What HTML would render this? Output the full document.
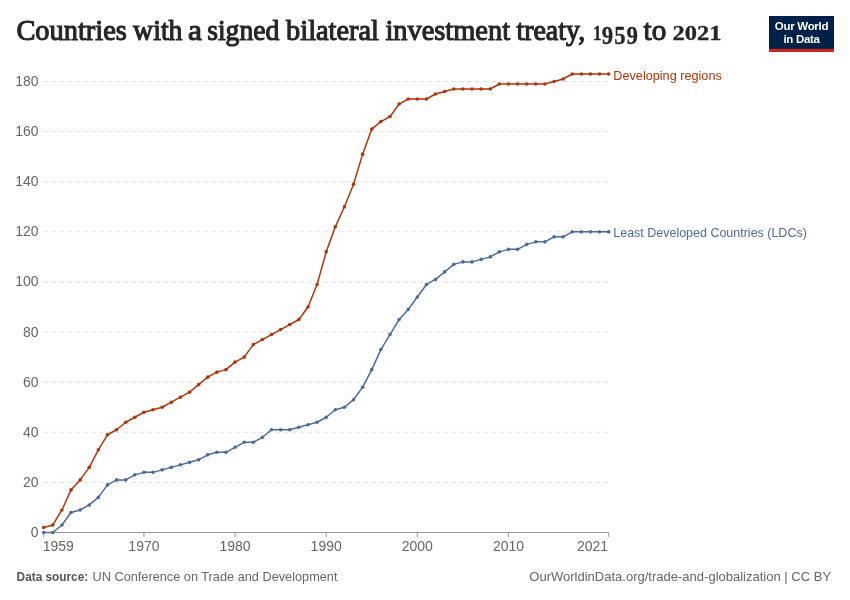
<!DOCTYPE html>
<html><head><meta charset="utf-8"><style>
html,body{margin:0;padding:0;background:#fff;}
body{width:850px;height:600px;overflow:hidden;position:relative;}
svg{position:absolute;left:0;top:0;}
.t{font-family:"Liberation Serif",serif;font-weight:normal;fill:#262626;stroke:#262626;stroke-width:1.1px;}
.d{font-weight:bold;stroke-width:0.3px;}
.ax{font-family:"Liberation Sans",sans-serif;font-size:14px;fill:#666;}
.lg{font-family:"Liberation Sans",sans-serif;font-size:13px;}
.ft{font-family:"Liberation Sans",sans-serif;font-size:13px;fill:#666;}
</style></head><body>
<svg width="850" height="600" viewBox="0 0 850 600">
<rect width="850" height="600" fill="#fff"/>
<text class="t" x="16.4" y="40" font-size="28.6" textLength="110.5" lengthAdjust="spacingAndGlyphs">Countries</text>
<text class="t" x="133.1" y="40" font-size="28.6" textLength="49.4" lengthAdjust="spacingAndGlyphs">with</text>
<text class="t" x="188.0" y="40" font-size="28.6" textLength="13.9" lengthAdjust="spacingAndGlyphs">a</text>
<text class="t" x="207.2" y="40" font-size="28.6" textLength="72.1" lengthAdjust="spacingAndGlyphs">signed</text>
<text class="t" x="286.1" y="40" font-size="28.6" textLength="92.9" lengthAdjust="spacingAndGlyphs">bilateral</text>
<text class="t" x="385.4" y="40" font-size="28.6" textLength="124.7" lengthAdjust="spacingAndGlyphs">investment</text>
<text class="t" x="516.4" y="40" font-size="28.6" textLength="68.8" lengthAdjust="spacingAndGlyphs">treaty,</text>
<text class="t" x="643.6" y="40" font-size="28.6" textLength="22.7" lengthAdjust="spacingAndGlyphs">to</text>
<text class="t d" x="593.0" y="40" font-size="20" textLength="8.6" lengthAdjust="spacingAndGlyphs">1</text>
<text class="t d" x="601.8" y="43.6" font-size="25.5" textLength="11.4" lengthAdjust="spacingAndGlyphs">9</text>
<text class="t d" x="614.2" y="43.6" font-size="25.5" textLength="11.4" lengthAdjust="spacingAndGlyphs">5</text>
<text class="t d" x="626.6" y="43.6" font-size="25.5" textLength="11.4" lengthAdjust="spacingAndGlyphs">9</text>
<text class="t d" x="672.5" y="40" font-size="20" textLength="49" lengthAdjust="spacingAndGlyphs">2021</text>

<g>
<rect x="769" y="16" width="65" height="36" fill="#002147"/>
<rect x="769" y="48.8" width="65" height="3.2" fill="#c9261f"/>
<text x="801.5" y="30" text-anchor="middle" font-family="Liberation Sans, sans-serif" font-weight="bold" font-size="11.5" fill="#fff" letter-spacing="-0.3">Our World</text>
<text x="801.5" y="43" text-anchor="middle" font-family="Liberation Sans, sans-serif" font-weight="bold" font-size="11.5" fill="#fff" letter-spacing="-0.3">in Data</text>
</g>
<line x1="43.5" x2="608.7" y1="482.39" y2="482.39" stroke="#ddd" stroke-width="1" stroke-dasharray="4,4"/>
<line x1="43.5" x2="608.7" y1="432.28" y2="432.28" stroke="#ddd" stroke-width="1" stroke-dasharray="4,4"/>
<line x1="43.5" x2="608.7" y1="382.16" y2="382.16" stroke="#ddd" stroke-width="1" stroke-dasharray="4,4"/>
<line x1="43.5" x2="608.7" y1="332.05" y2="332.05" stroke="#ddd" stroke-width="1" stroke-dasharray="4,4"/>
<line x1="43.5" x2="608.7" y1="281.94" y2="281.94" stroke="#ddd" stroke-width="1" stroke-dasharray="4,4"/>
<line x1="43.5" x2="608.7" y1="231.83" y2="231.83" stroke="#ddd" stroke-width="1" stroke-dasharray="4,4"/>
<line x1="43.5" x2="608.7" y1="181.72" y2="181.72" stroke="#ddd" stroke-width="1" stroke-dasharray="4,4"/>
<line x1="43.5" x2="608.7" y1="131.60" y2="131.60" stroke="#ddd" stroke-width="1" stroke-dasharray="4,4"/>
<line x1="43.5" x2="608.7" y1="81.49" y2="81.49" stroke="#ddd" stroke-width="1" stroke-dasharray="4,4"/>

<line x1="43.5" x2="608.7" y1="532.5" y2="532.5" stroke="#999" stroke-width="1"/>
<line x1="43.70" x2="43.70" y1="532.5" y2="537" stroke="#999" stroke-width="1"/><line x1="143.94" x2="143.94" y1="532.5" y2="537" stroke="#999" stroke-width="1"/><line x1="235.07" x2="235.07" y1="532.5" y2="537" stroke="#999" stroke-width="1"/><line x1="326.20" x2="326.20" y1="532.5" y2="537" stroke="#999" stroke-width="1"/><line x1="417.33" x2="417.33" y1="532.5" y2="537" stroke="#999" stroke-width="1"/><line x1="508.46" x2="508.46" y1="532.5" y2="537" stroke="#999" stroke-width="1"/><line x1="608.71" x2="608.71" y1="532.5" y2="537" stroke="#999" stroke-width="1"/>
<g class="ax">
<text x="38.5" y="536.95" text-anchor="end">0</text>
<text x="38.5" y="486.84" text-anchor="end">20</text>
<text x="38.5" y="436.73" text-anchor="end">40</text>
<text x="38.5" y="386.61" text-anchor="end">60</text>
<text x="38.5" y="336.50" text-anchor="end">80</text>
<text x="38.5" y="286.39" text-anchor="end">100</text>
<text x="38.5" y="236.28" text-anchor="end">120</text>
<text x="38.5" y="186.17" text-anchor="end">140</text>
<text x="38.5" y="136.05" text-anchor="end">160</text>
<text x="38.5" y="85.94" text-anchor="end">180</text>

<text x="42.70" y="550.7" text-anchor="start">1959</text>
<text x="143.94" y="550.7" text-anchor="middle">1970</text>
<text x="235.07" y="550.7" text-anchor="middle">1980</text>
<text x="326.20" y="550.7" text-anchor="middle">1990</text>
<text x="417.33" y="550.7" text-anchor="middle">2000</text>
<text x="508.46" y="550.7" text-anchor="middle">2010</text>
<text x="608.11" y="550.7" text-anchor="end">2021</text>

</g>
<polyline points="43.70,532.50 52.81,532.50 61.93,524.98 71.04,512.46 80.15,509.95 89.27,504.94 98.38,497.42 107.49,484.89 116.60,479.88 125.72,479.88 134.83,474.87 143.94,472.37 153.06,472.37 162.17,469.86 171.28,467.35 180.39,464.85 189.51,462.34 198.62,459.84 207.73,454.83 216.85,452.32 225.96,452.32 235.07,447.31 244.19,442.30 253.30,442.30 262.41,437.29 271.52,429.77 280.64,429.77 289.75,429.77 298.86,427.26 307.98,424.76 317.09,422.25 326.20,417.24 335.32,409.73 344.43,407.22 353.54,399.70 362.65,387.18 371.77,369.64 380.88,349.59 389.99,334.56 399.11,319.52 408.22,309.50 417.33,296.97 426.45,284.45 435.56,279.43 444.67,271.92 453.78,264.40 462.90,261.90 472.01,261.90 481.12,259.39 490.24,256.88 499.35,251.87 508.46,249.37 517.58,249.37 526.69,244.36 535.80,241.85 544.91,241.85 554.03,236.84 563.14,236.84 572.25,231.83 581.37,231.83 590.48,231.83 599.59,231.83 608.71,231.83" fill="none" stroke="#4C6A9C" stroke-width="1.5" stroke-linejoin="round" stroke-linecap="round"/>
<circle cx="43.70" cy="532.50" r="1.8" fill="#4C6A9C"/><circle cx="52.81" cy="532.50" r="1.8" fill="#4C6A9C"/><circle cx="61.93" cy="524.98" r="1.8" fill="#4C6A9C"/><circle cx="71.04" cy="512.46" r="1.8" fill="#4C6A9C"/><circle cx="80.15" cy="509.95" r="1.8" fill="#4C6A9C"/><circle cx="89.27" cy="504.94" r="1.8" fill="#4C6A9C"/><circle cx="98.38" cy="497.42" r="1.8" fill="#4C6A9C"/><circle cx="107.49" cy="484.89" r="1.8" fill="#4C6A9C"/><circle cx="116.60" cy="479.88" r="1.8" fill="#4C6A9C"/><circle cx="125.72" cy="479.88" r="1.8" fill="#4C6A9C"/><circle cx="134.83" cy="474.87" r="1.8" fill="#4C6A9C"/><circle cx="143.94" cy="472.37" r="1.8" fill="#4C6A9C"/><circle cx="153.06" cy="472.37" r="1.8" fill="#4C6A9C"/><circle cx="162.17" cy="469.86" r="1.8" fill="#4C6A9C"/><circle cx="171.28" cy="467.35" r="1.8" fill="#4C6A9C"/><circle cx="180.39" cy="464.85" r="1.8" fill="#4C6A9C"/><circle cx="189.51" cy="462.34" r="1.8" fill="#4C6A9C"/><circle cx="198.62" cy="459.84" r="1.8" fill="#4C6A9C"/><circle cx="207.73" cy="454.83" r="1.8" fill="#4C6A9C"/><circle cx="216.85" cy="452.32" r="1.8" fill="#4C6A9C"/><circle cx="225.96" cy="452.32" r="1.8" fill="#4C6A9C"/><circle cx="235.07" cy="447.31" r="1.8" fill="#4C6A9C"/><circle cx="244.19" cy="442.30" r="1.8" fill="#4C6A9C"/><circle cx="253.30" cy="442.30" r="1.8" fill="#4C6A9C"/><circle cx="262.41" cy="437.29" r="1.8" fill="#4C6A9C"/><circle cx="271.52" cy="429.77" r="1.8" fill="#4C6A9C"/><circle cx="280.64" cy="429.77" r="1.8" fill="#4C6A9C"/><circle cx="289.75" cy="429.77" r="1.8" fill="#4C6A9C"/><circle cx="298.86" cy="427.26" r="1.8" fill="#4C6A9C"/><circle cx="307.98" cy="424.76" r="1.8" fill="#4C6A9C"/><circle cx="317.09" cy="422.25" r="1.8" fill="#4C6A9C"/><circle cx="326.20" cy="417.24" r="1.8" fill="#4C6A9C"/><circle cx="335.32" cy="409.73" r="1.8" fill="#4C6A9C"/><circle cx="344.43" cy="407.22" r="1.8" fill="#4C6A9C"/><circle cx="353.54" cy="399.70" r="1.8" fill="#4C6A9C"/><circle cx="362.65" cy="387.18" r="1.8" fill="#4C6A9C"/><circle cx="371.77" cy="369.64" r="1.8" fill="#4C6A9C"/><circle cx="380.88" cy="349.59" r="1.8" fill="#4C6A9C"/><circle cx="389.99" cy="334.56" r="1.8" fill="#4C6A9C"/><circle cx="399.11" cy="319.52" r="1.8" fill="#4C6A9C"/><circle cx="408.22" cy="309.50" r="1.8" fill="#4C6A9C"/><circle cx="417.33" cy="296.97" r="1.8" fill="#4C6A9C"/><circle cx="426.45" cy="284.45" r="1.8" fill="#4C6A9C"/><circle cx="435.56" cy="279.43" r="1.8" fill="#4C6A9C"/><circle cx="444.67" cy="271.92" r="1.8" fill="#4C6A9C"/><circle cx="453.78" cy="264.40" r="1.8" fill="#4C6A9C"/><circle cx="462.90" cy="261.90" r="1.8" fill="#4C6A9C"/><circle cx="472.01" cy="261.90" r="1.8" fill="#4C6A9C"/><circle cx="481.12" cy="259.39" r="1.8" fill="#4C6A9C"/><circle cx="490.24" cy="256.88" r="1.8" fill="#4C6A9C"/><circle cx="499.35" cy="251.87" r="1.8" fill="#4C6A9C"/><circle cx="508.46" cy="249.37" r="1.8" fill="#4C6A9C"/><circle cx="517.58" cy="249.37" r="1.8" fill="#4C6A9C"/><circle cx="526.69" cy="244.36" r="1.8" fill="#4C6A9C"/><circle cx="535.80" cy="241.85" r="1.8" fill="#4C6A9C"/><circle cx="544.91" cy="241.85" r="1.8" fill="#4C6A9C"/><circle cx="554.03" cy="236.84" r="1.8" fill="#4C6A9C"/><circle cx="563.14" cy="236.84" r="1.8" fill="#4C6A9C"/><circle cx="572.25" cy="231.83" r="1.8" fill="#4C6A9C"/><circle cx="581.37" cy="231.83" r="1.8" fill="#4C6A9C"/><circle cx="590.48" cy="231.83" r="1.8" fill="#4C6A9C"/><circle cx="599.59" cy="231.83" r="1.8" fill="#4C6A9C"/><circle cx="608.71" cy="231.83" r="1.8" fill="#4C6A9C"/>

<polyline points="43.70,527.49 52.81,524.98 61.93,509.95 71.04,489.90 80.15,479.88 89.27,467.35 98.38,449.82 107.49,434.78 116.60,429.77 125.72,422.25 134.83,417.24 143.94,412.23 153.06,409.73 162.17,407.22 171.28,402.21 180.39,397.20 189.51,392.19 198.62,384.67 207.73,377.15 216.85,372.14 225.96,369.64 235.07,362.12 244.19,357.11 253.30,344.58 262.41,339.57 271.52,334.56 280.64,329.55 289.75,324.54 298.86,319.52 307.98,307.00 317.09,284.45 326.20,251.87 335.32,226.82 344.43,206.77 353.54,184.22 362.65,154.15 371.77,129.10 380.88,121.58 389.99,116.57 399.11,104.04 408.22,99.03 417.33,99.03 426.45,99.03 435.56,94.02 444.67,91.51 453.78,89.01 462.90,89.01 472.01,89.01 481.12,89.01 490.24,89.01 499.35,84.00 508.46,84.00 517.58,84.00 526.69,84.00 535.80,84.00 544.91,84.00 554.03,81.49 563.14,78.99 572.25,73.98 581.37,73.98 590.48,73.98 599.59,73.98 608.71,73.98" fill="none" stroke="#B13507" stroke-width="1.5" stroke-linejoin="round" stroke-linecap="round"/>
<circle cx="43.70" cy="527.49" r="1.8" fill="#B13507"/><circle cx="52.81" cy="524.98" r="1.8" fill="#B13507"/><circle cx="61.93" cy="509.95" r="1.8" fill="#B13507"/><circle cx="71.04" cy="489.90" r="1.8" fill="#B13507"/><circle cx="80.15" cy="479.88" r="1.8" fill="#B13507"/><circle cx="89.27" cy="467.35" r="1.8" fill="#B13507"/><circle cx="98.38" cy="449.82" r="1.8" fill="#B13507"/><circle cx="107.49" cy="434.78" r="1.8" fill="#B13507"/><circle cx="116.60" cy="429.77" r="1.8" fill="#B13507"/><circle cx="125.72" cy="422.25" r="1.8" fill="#B13507"/><circle cx="134.83" cy="417.24" r="1.8" fill="#B13507"/><circle cx="143.94" cy="412.23" r="1.8" fill="#B13507"/><circle cx="153.06" cy="409.73" r="1.8" fill="#B13507"/><circle cx="162.17" cy="407.22" r="1.8" fill="#B13507"/><circle cx="171.28" cy="402.21" r="1.8" fill="#B13507"/><circle cx="180.39" cy="397.20" r="1.8" fill="#B13507"/><circle cx="189.51" cy="392.19" r="1.8" fill="#B13507"/><circle cx="198.62" cy="384.67" r="1.8" fill="#B13507"/><circle cx="207.73" cy="377.15" r="1.8" fill="#B13507"/><circle cx="216.85" cy="372.14" r="1.8" fill="#B13507"/><circle cx="225.96" cy="369.64" r="1.8" fill="#B13507"/><circle cx="235.07" cy="362.12" r="1.8" fill="#B13507"/><circle cx="244.19" cy="357.11" r="1.8" fill="#B13507"/><circle cx="253.30" cy="344.58" r="1.8" fill="#B13507"/><circle cx="262.41" cy="339.57" r="1.8" fill="#B13507"/><circle cx="271.52" cy="334.56" r="1.8" fill="#B13507"/><circle cx="280.64" cy="329.55" r="1.8" fill="#B13507"/><circle cx="289.75" cy="324.54" r="1.8" fill="#B13507"/><circle cx="298.86" cy="319.52" r="1.8" fill="#B13507"/><circle cx="307.98" cy="307.00" r="1.8" fill="#B13507"/><circle cx="317.09" cy="284.45" r="1.8" fill="#B13507"/><circle cx="326.20" cy="251.87" r="1.8" fill="#B13507"/><circle cx="335.32" cy="226.82" r="1.8" fill="#B13507"/><circle cx="344.43" cy="206.77" r="1.8" fill="#B13507"/><circle cx="353.54" cy="184.22" r="1.8" fill="#B13507"/><circle cx="362.65" cy="154.15" r="1.8" fill="#B13507"/><circle cx="371.77" cy="129.10" r="1.8" fill="#B13507"/><circle cx="380.88" cy="121.58" r="1.8" fill="#B13507"/><circle cx="389.99" cy="116.57" r="1.8" fill="#B13507"/><circle cx="399.11" cy="104.04" r="1.8" fill="#B13507"/><circle cx="408.22" cy="99.03" r="1.8" fill="#B13507"/><circle cx="417.33" cy="99.03" r="1.8" fill="#B13507"/><circle cx="426.45" cy="99.03" r="1.8" fill="#B13507"/><circle cx="435.56" cy="94.02" r="1.8" fill="#B13507"/><circle cx="444.67" cy="91.51" r="1.8" fill="#B13507"/><circle cx="453.78" cy="89.01" r="1.8" fill="#B13507"/><circle cx="462.90" cy="89.01" r="1.8" fill="#B13507"/><circle cx="472.01" cy="89.01" r="1.8" fill="#B13507"/><circle cx="481.12" cy="89.01" r="1.8" fill="#B13507"/><circle cx="490.24" cy="89.01" r="1.8" fill="#B13507"/><circle cx="499.35" cy="84.00" r="1.8" fill="#B13507"/><circle cx="508.46" cy="84.00" r="1.8" fill="#B13507"/><circle cx="517.58" cy="84.00" r="1.8" fill="#B13507"/><circle cx="526.69" cy="84.00" r="1.8" fill="#B13507"/><circle cx="535.80" cy="84.00" r="1.8" fill="#B13507"/><circle cx="544.91" cy="84.00" r="1.8" fill="#B13507"/><circle cx="554.03" cy="81.49" r="1.8" fill="#B13507"/><circle cx="563.14" cy="78.99" r="1.8" fill="#B13507"/><circle cx="572.25" cy="73.98" r="1.8" fill="#B13507"/><circle cx="581.37" cy="73.98" r="1.8" fill="#B13507"/><circle cx="590.48" cy="73.98" r="1.8" fill="#B13507"/><circle cx="599.59" cy="73.98" r="1.8" fill="#B13507"/><circle cx="608.71" cy="73.98" r="1.8" fill="#B13507"/>

<text class="lg" x="613.3" y="79.9" fill="#B13507" textLength="108.5" lengthAdjust="spacingAndGlyphs">Developing regions</text>
<text class="lg" x="613.3" y="236.7" fill="#4C6A9C" textLength="193.5" lengthAdjust="spacingAndGlyphs">Least Developed Countries (LDCs)</text>
<text class="ft" x="16.6" y="580.5" font-weight="bold" style="fill:#555" textLength="71.6" lengthAdjust="spacingAndGlyphs">Data source:</text>
<text class="ft" x="92.5" y="580.5" textLength="245" lengthAdjust="spacingAndGlyphs">UN Conference on Trade and Development</text>
<text class="ft" x="529.3" y="580.5" textLength="301.8" lengthAdjust="spacingAndGlyphs">OurWorldinData.org/trade-and-globalization | CC BY</text>
</svg>
</body></html>
